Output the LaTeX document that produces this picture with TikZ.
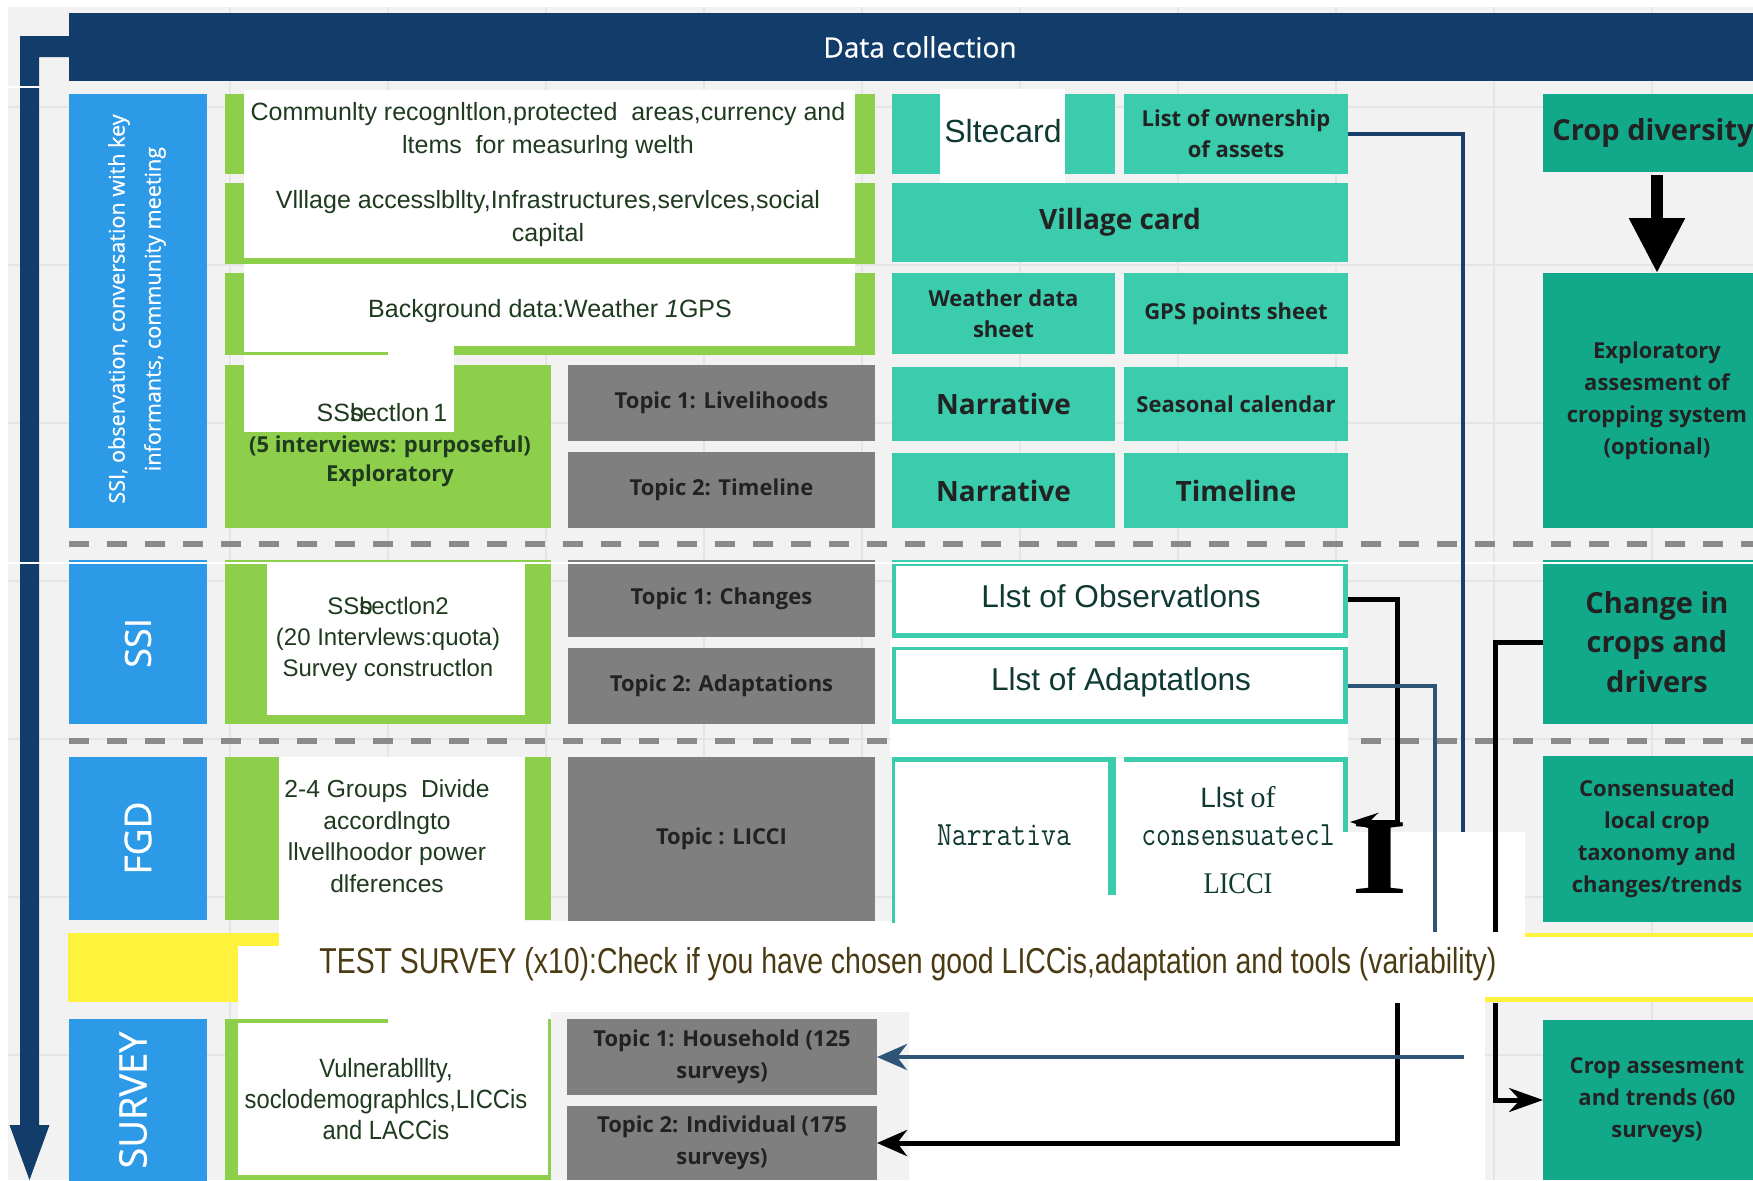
\documentclass[tikz,border=0pt]{standalone}
\usepackage{fontspec}
\usepackage{graphicx}
\usetikzlibrary{arrows.meta}
\newfontfamily\fOS{Open Sans}
\newfontfamily\fOSsb[FakeBold=0.6]{Open Sans}
\newfontfamily\fAr{Liberation Sans}
\newfontfamily\fArN[FakeStretch=0.79]{Liberation Sans}
\newfontfamily\fArM[FakeStretch=0.9]{Liberation Sans}
\newfontfamily\fTm{Liberation Serif}
\newfontfamily\fTmN[FakeStretch=0.88]{Liberation Serif}
\definecolor{cbg}{HTML}{F2F2F2}
\definecolor{cgrid}{HTML}{E5E5E5}
\definecolor{cnavy}{HTML}{123D6A}
\definecolor{cblue}{HTML}{2D9AE8}
\definecolor{cgreen}{HTML}{8DCF4B}
\definecolor{cteal}{HTML}{3ACCAD}
\definecolor{cdteal}{HTML}{12A88A}
\definecolor{cgraybox}{HTML}{7F7F7F}
\definecolor{cyellow}{HTML}{FFF23C}
\definecolor{cdash}{HTML}{8A8A8A}
\definecolor{csteel}{HTML}{2E5478}
\definecolor{cnavyln}{HTML}{1A3F6B}
\definecolor{cocr}{HTML}{1F3A1F}
\definecolor{ctest}{HTML}{4A3B12}
\definecolor{cobs}{HTML}{0F3A32}
\definecolor{clbl}{HTML}{222222}
\newcommand\bx[7][]{\node[anchor=north west,inner sep=0pt,outer sep=0pt,align=center,minimum width={(#5-#3)*0.5pt},minimum height={(#6-#4)*0.5pt},#1] (#2) at (#3,#4) {#7};}
\tikzset{
 tealbox/.style={fill=cteal,text=clbl,font=\fOS\bfseries\fontsize{11}{15.5}\selectfont},
 tealbig/.style={fill=cteal,text=clbl,font=\fOS\bfseries\fontsize{14}{18}\selectfont},
 dtealbox/.style={fill=cdteal,text=clbl,font=\fOS\bfseries\fontsize{11}{16}\selectfont},
 graybox/.style={fill=cgraybox,text=clbl,font=\fOS\bfseries\fontsize{11}{16}\selectfont},
 greenbox/.style={fill=cgreen},
 bluebox/.style={fill=cblue},
 vlabel/.style={text=white,rotate=90,align=center,inner sep=0pt},
 ocrtext/.style={text=cocr,align=center,inner sep=0pt,font=\fAr\fontsize{12.5}{16.5}\selectfont},
 navyln/.style={draw=cnavyln,line width=2pt},
 steelln/.style={draw=csteel,line width=2pt},
 blkln/.style={draw=black,line width=2.5pt},
 dashln/.style={draw=cdash,line width=3pt,dash pattern=on 10pt off 9pt},
 gridln/.style={draw=cgrid,line width=0.8pt},
}
\begin{document}
\begin{tikzpicture}[x=0.5pt,y=-0.5pt]
\useasboundingbox (0,0) rectangle (1753,1180);
\clip (0,0) rectangle (1753,1180);
% background
\fill[white] (0,0) rectangle (1753,1180);
\fill[cbg] (8,7) rectangle (1753,1180);
\foreach \gx in {230,388,546,704,862,1020,1178,1336,1494,1652} \draw[gridln] (\gx,7) -- (\gx,1180);
\foreach \gy in {107,265,423,581,739,897,1055} \draw[gridln] (8,\gy) -- (1753,\gy);
% big time arrow
\fill[cnavy] (20,36) -- (69,36) -- (69,57) -- (39,57) -- (39,1125) -- (49.5,1125) -- (29.5,1180) -- (9.5,1125) -- (20,1125) -- cycle;
% title
\bx[fill=cnavy,text=white,font=\fOSsb\fontsize{14}{16}\selectfont]{title}{69}{13}{1771}{81}{Data collection}
% separators
\draw[dashln] (69,544) -- (1753,544);
\draw[dashln] (69,741) -- (1753,741);
\fill[cyellow] (68,933) rectangle (1753,1002);
% blue
\bx[bluebox]{bA}{69}{94}{207}{528}{}
\bx[bluebox]{bB}{69}{560}{207}{724}{}
\bx[bluebox]{bC}{69}{757}{207}{920}{}
\bx[bluebox]{bD}{69}{1019}{207}{1190}{}
% green
\bx[greenbox]{gA}{225}{94}{875}{174}{}
\bx[greenbox]{gB}{225}{183}{875}{264}{}
\bx[greenbox]{gC}{225}{273}{875}{355}{}
\bx[greenbox]{gD}{225}{365}{551}{528}{}
\bx[greenbox]{gE}{225}{560}{551}{724}{}
\bx[greenbox]{gF}{225}{757}{551}{920}{}
% gray topics
\bx[graybox]{tA}{568}{365}{875}{441}{Topic 1: Livelihoods}
\bx[graybox]{tB}{568}{452}{875}{528}{Topic 2: Timeline}
\bx[graybox]{tC}{568}{560}{875}{637}{Topic 1: Changes}
\bx[graybox]{tD}{568}{648}{875}{724}{Topic 2: Adaptations}
\bx[graybox]{tE}{568}{757}{875}{921}{Topic : LICCI}
% teal
\bx[tealbox]{site}{892}{94}{1115}{174}{}
\bx[tealbox]{own}{1124}{94}{1348}{174}{List of ownership\\of assets}
\bx[tealbig]{vill}{892}{183}{1348}{262}{Village card}
\bx[tealbox]{wea}{892}{273}{1115}{354}{Weather data\\sheet}
\bx[tealbox]{gps}{1124}{273}{1348}{354}{GPS points sheet}
\bx[tealbig]{narA}{892}{367}{1115}{441}{Narrative}
\bx[tealbox]{seas}{1124}{367}{1348}{441}{Seasonal calendar}
\bx[tealbig]{narB}{892}{453}{1115}{528}{Narrative}
\bx[tealbig]{time}{1124}{453}{1348}{528}{Timeline}
% dark teal column
\bx[dtealbox]{cdiv}{1543}{94}{1771}{172}{}
\node[anchor=west,inner sep=0pt,text=clbl,font=\fOS\bfseries\fontsize{14.5}{18}\selectfont] (cdivT) at (1552,133) {Crop diversity};
\bx[dtealbox]{expl}{1543}{273}{1771}{528}{Exploratory\\assesment of\\cropping system\\(optional)}
\bx[dtealbox,font=\fOS\bfseries\fontsize{14.5}{19.75}\selectfont]{chg}{1543}{560}{1771}{724}{Change in\\crops and\\drivers}
\bx[dtealbox]{cons}{1543}{756}{1771}{922}{Consensuated\\local crop\\taxonomy and\\changes/trends}
\bx[dtealbox]{cass}{1543}{1020}{1771}{1180}{Crop assesment\\and trends (60\\surveys)}
% observation / adaptation lists
\fill[white] (890,638) rectangle (1348,757);
\bx[fill=cteal]{obs}{892}{560}{1348}{638}{}
\bx[fill=cteal]{ada}{892}{647}{1348}{724}{}
\fill[white] (896,566) rectangle (1343,633);
\fill[white] (896,650) rectangle (1343,719);
% white patches, upper part
\fill[white] (244,90) rectangle (855,258);
\fill[white] (244,264) rectangle (855,346);
\fill[white] (244,346) rectangle (454,432);
\fill[cgreen] (244,352) rectangle (388,355);
\fill[white] (940,89) rectangle (1065,183);
\fill[white] (267,563) rectangle (525,715);
% white patches, lower part
\fill[white] (279,757) rectangle (525,946);
\fill[white] (525,921) rectangle (894,946);
\fill[white] (894,757) rectangle (1348,946);
\fill[white] (1348,832) rectangle (1525,946);
\fill[white] (279,937) rectangle (1753,946);
\fill[white] (238,946) rectangle (1753,997);
\fill[white] (238,997) rectangle (1485,1180);
% FGD teal outlines
\fill[cteal] (892,757) rectangle (1115,762);
\fill[cteal] (892,757) rectangle (895,923);
\fill[cteal] (1108,757) rectangle (1116,895);
\fill[cteal] (1124,757) rectangle (1348,762);
\fill[cteal] (1343,757) rectangle (1348,832);
% survey row
\bx[greenbox]{gG}{225}{1019}{551}{1180}{}
\fill[white] (238,1023) rectangle (548,1175);
\fill[white] (388,1012) rectangle (548,1023);
\fill[cbg] (551,1012) rectangle (909,1180);
\bx[graybox]{tF}{567}{1019}{877}{1095}{Topic 1: Household (125\\surveys)}
\bx[graybox]{tG}{567}{1106}{877}{1180}{Topic 2: Individual (175\\surveys)}
% white scan lines
\draw[white,line width=1.25pt] (8,563) -- (1753,563);
\draw[white,line width=1.25pt] (8,87) -- (40,87);
% connectors
\coordinate (nvEnd) at (1463,832);
\draw[navyln] (own.east) -| (nvEnd);
\coordinate (obTurn) at (1397,822);
\coordinate (obTip) at (1350,822);
\draw[blkln,-{Stealth[length=14pt,width=9pt]}] (obs.east) -| (obTurn) -- (obTip);
\coordinate (adEnd) at (1435,932);
\draw[steelln] (ada.east) -| (adEnd);
\coordinate (chEnd) at (1495,932);
\draw[blkln] (chg.west) -| (chEnd);
\coordinate (caStart) at (1495,1003);
\draw[blkln,-{Stealth[length=17pt,width=12pt]}] (caStart) |- (cass.west);
\coordinate (inStart) at (1397,1003);
\draw[blkln,-{Stealth[length=15pt,width=13pt]}] (inStart) |- (tG.east);
\coordinate (hoStart) at (1464,1057);
\draw[steelln,-{Stealth[length=15pt,width=13pt]}] (hoStart) -- (tF.east);
\draw[line width=6pt,-{Triangle[length=27.5pt,width=26.5pt]}] ([yshift=-1.5pt]cdiv.south) -- (expl.north);
% vertical labels
\node[vlabel,font=\fOSsb\fontsize{10.8}{18}\selectfont] (vA) at (137,309) {SSI, observation, conversation with key\\informants, community meeting};
\node[vlabel,font=\fOSsb\fontsize{18}{20}\selectfont] (vB) at (138,643) {SSI};
\node[vlabel,font=\fOSsb\fontsize{18.5}{20}\selectfont] (vC) at (138,838) {FGD};
\node[vlabel,font=\fOSsb\fontsize{19}{21}\selectfont] (vD) at (133,1100) {SURVEY};
% scanned texts
\node[ocrtext] (oA) at (548,131) {Communlty recognltlon,protected\ \ areas,currency and\\ltems\ \ for measurlng welth};
\node[ocrtext] (oB) at (548,219) {Vlllage accesslbllty,Infrastructures,servlces,social\\capital};
\node[ocrtext] (oC) at (550,311) {Background data:Weather \textit{1}GPS};
\node[ocrtext,font=\fAr\fontsize{16}{18}\selectfont,text=cobs] (oD) at (1003,131) {Sltecard};
\node[ocrtext] (oE) at (382,413) {SS\rlap{b}sectlon\,1};
\node[text=cocr,align=center,inner sep=0pt,font=\fOS\bfseries\fontsize{11}{14.5}\selectfont] (oF) at (390,461) {(5 interviews: purposeful)\\Exploratory};
\node[ocrtext,font=\fAr\fontsize{12}{15.5}\selectfont] (oG) at (388,639) {SS\rlap{b}sectlon2\\(20 Intervlews:quota)\\Survey constructlon};
\node[ocrtext,font=\fAr\fontsize{12.3}{15.8}\selectfont] (oH) at (387,836) {2-4 Groups\ \ Divide\\accordlngto\\llvellhoodor power\\dlferences};
\node[ocrtext,font=\fArN\fontsize{18}{20}\selectfont,text=ctest] (oI) at (908,964) {TEST SURVEY (x10):Check if you have chosen good LICCis,adaptation and tools (variability)};
\node[ocrtext,font=\fArM\fontsize{13.2}{15.5}\selectfont] (oJ) at (386,1099) {Vulnerablllty,\\soclodemographlcs,LICCis\\and LACCis};
\node[ocrtext,font=\fAr\fontsize{15.8}{18}\selectfont,text=cobs] (oK) at (1121,596) {Llst of Observatlons};
\node[ocrtext,font=\fAr\fontsize{15.8}{18}\selectfont,text=cobs] (oL) at (1121,682) {Llst of Adaptatlons};
\node[text=cobs,inner sep=0pt] (oM) at (1004,835) {\scalebox{0.85}[1]{\ttfamily\fontsize{17}{20}\selectfont Narrativa}};
\node[text=cobs,inner sep=0pt] (oN) at (1238,797) {{\fAr\fontsize{14}{16}\selectfont Llst} {\fTm\fontsize{15}{16}\selectfont of}};
\node[text=cobs,inner sep=0pt] (oO) at (1238,835) {\scalebox{0.85}[1]{\ttfamily\fontsize{17}{20}\selectfont consensuatecl}};
\node[text=cobs,inner sep=0pt] (oP) at (1238,884) {\fTmN\fontsize{15}{16}\selectfont LICCI};
\node[inner sep=0pt] (bigI) at (1380,858) {\scalebox{1.35}[1]{\fTm\bfseries\fontsize{54}{54}\selectfont I}};
\end{tikzpicture}
\end{document}
